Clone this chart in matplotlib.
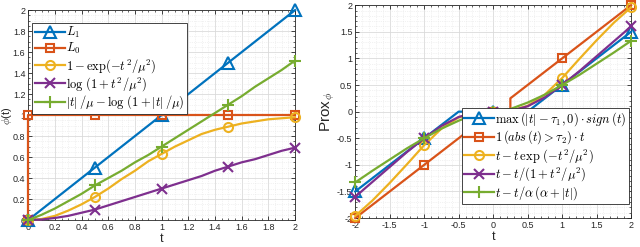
import matplotlib
matplotlib.use('Agg')
import matplotlib.pyplot as plt
from matplotlib.ticker import MultipleLocator

plt.rcParams['font.family'] = ['Liberation Sans', 'DejaVu Sans']
plt.rcParams['mathtext.fontset'] = 'cm'

# MATLAB default colours
c_blue, c_orange, c_yellow, c_purple, c_green = '#0072BD', '#D95319', '#EDB120', '#7E2F8E', '#77AC30'

# ---- left panel: penalty functions phi(t) ----
t_l = [0, 0.1, 0.2, 0.3, 0.4, 0.5, 0.6, 0.7, 0.8, 0.9, 1.0,
       1.1, 1.2, 1.3, 1.4, 1.5, 1.6, 1.7, 1.8, 1.9, 2.0]
phi_l1 = [0, 0.1, 0.2, 0.3, 0.4, 0.5, 0.6, 0.7, 0.8, 0.9, 1.0,
          1.1, 1.2, 1.3, 1.4, 1.5, 1.6, 1.7, 1.8, 1.9, 2.0]
t_l0 = [0, 0, 0.5, 1, 1.5, 2]
phi_l0 = [0, 1, 1, 1, 1, 1]
phi_exp = [0, 0.01, 0.04, 0.09, 0.15, 0.22, 0.30, 0.39, 0.47, 0.56, 0.63,
           0.70, 0.76, 0.82, 0.86, 0.89, 0.92, 0.94, 0.96, 0.97, 0.98]
phi_log = [0, 0.005, 0.02, 0.04, 0.07, 0.10, 0.14, 0.18, 0.22, 0.26, 0.30,
           0.34, 0.38, 0.42, 0.47, 0.51, 0.55, 0.58, 0.62, 0.66, 0.69]
phi_abslog = [0, 0.05, 0.11, 0.18, 0.25, 0.33, 0.40, 0.47, 0.55, 0.62, 0.70,
              0.78, 0.86, 0.94, 1.02, 1.10, 1.18, 1.27, 1.35, 1.43, 1.52]

# ---- right panel: proximal operators ----
t_soft = [-2, -1, -0.5, 0, 0.5, 1, 2]
prox_soft = [-1.5, -0.5, 0, 0, 0, 0.5, 1.5]
t_hard = [-2, -1, -0.25, -0.25, 0, 0.25, 0.25, 1, 2]
prox_hard = [-2, -1, -0.25, 0, 0, 0, 0.25, 1, 2]
t_r = [-2, -1.75, -1.5, -1.25, -1, -0.75, -0.5, -0.25, 0,
       0.25, 0.5, 0.75, 1, 1.25, 1.5, 1.75, 2]
prox_exp = [-1.96, -1.67, -1.34, -0.99, -0.63, -0.32, -0.11, -0.015, 0,
            0.015, 0.11, 0.32, 0.63, 0.99, 1.34, 1.67, 1.96]
prox_rat = [-1.6, -1.32, -1.04, -0.76, -0.5, -0.27, -0.10, -0.015, 0,
            0.015, 0.10, 0.27, 0.5, 0.76, 1.04, 1.32, 1.6]
prox_abs = [-1.33, -1.11, -0.9, -0.69, -0.5, -0.32, -0.17, -0.05, 0,
            0.05, 0.17, 0.32, 0.5, 0.69, 0.9, 1.11, 1.33]

fig = plt.figure(figsize=(6.4, 2.47), dpi=100)
ax1 = fig.add_axes([0.044, 0.109, 0.417, 0.850])
ax2 = fig.add_axes([0.555, 0.117, 0.431, 0.862])

lw = 1.6
mk = dict(markerfacecolor='none', markeredgewidth=1.5, clip_on=False, zorder=3)

ax1.plot(t_l, phi_l1, color=c_blue, lw=lw, marker='^', ms=8.5, markevery=5, label=r'$L_1$', **mk)
ax1.plot(t_l0, phi_l0, color=c_orange, lw=lw, marker='s', ms=5.5, label=r'$L_0$', **mk)
ax1.plot(t_l, phi_exp, color=c_yellow, lw=lw, marker='o', ms=6.5, markevery=5,
         label=r'$1-\exp(-t^2/\mu^2)$', **mk)
ax1.plot(t_l, phi_log, color=c_purple, lw=lw, marker='x', ms=7, markevery=5,
         label=r'$\log\,(1+t^2/\mu^2)$', **mk)
ax1.plot(t_l, phi_abslog, color=c_green, lw=lw, marker='+', ms=9, markevery=5,
         label=r'$|t|\,/\mu-\log\,(1+|t|\,/\mu)$', **mk)

ax2.plot(t_soft, prox_soft, color=c_blue, lw=lw, marker='^', ms=8.5, markevery=[0, 1, 3, 5, 6],
         label=r'$\max\,(|t|-\tau_1,0)\cdot sign\,(t)$', **mk)
ax2.plot(t_hard, prox_hard, color=c_orange, lw=lw, marker='s', ms=5.5, markevery=[0, 1, 4, 7, 8],
         label=r'$\mathbf{1}\,(abs\,(t)>\tau_2)\cdot t$', **mk)
ax2.plot(t_r, prox_exp, color=c_yellow, lw=lw, marker='o', ms=6.5, markevery=4,
         label=r'$t-t\,\exp\,(-t^2/\mu^2)$', **mk)
ax2.plot(t_r, prox_rat, color=c_purple, lw=lw, marker='x', ms=7, markevery=4,
         label=r'$t-t/(1+t^2/\mu^2)$', **mk)
ax2.plot(t_r, prox_abs, color=c_green, lw=lw, marker='+', ms=9, markevery=4,
         label=r'$t-t/\alpha\,(\alpha+|t|)$', **mk)

ax1.set_xlim(0, 2)
ax1.set_ylim(0, 2)
ax1.xaxis.set_major_locator(MultipleLocator(0.2))
ax1.yaxis.set_major_locator(MultipleLocator(0.2))
ax1.xaxis.set_minor_locator(MultipleLocator(0.05))
ax1.yaxis.set_minor_locator(MultipleLocator(0.05))
ax2.set_xlim(-2, 2)
ax2.set_ylim(-2, 2)
ax2.xaxis.set_major_locator(MultipleLocator(0.5))
ax2.yaxis.set_major_locator(MultipleLocator(0.5))
ax2.xaxis.set_minor_locator(MultipleLocator(0.1))
ax2.yaxis.set_minor_locator(MultipleLocator(0.1))

fmt = lambda v, p: ('%g' % round(v, 2))
for ax in (ax1, ax2):
    ax.xaxis.set_major_formatter(plt.FuncFormatter(fmt))
    ax.yaxis.set_major_formatter(plt.FuncFormatter(fmt))
    ax.tick_params(which='both', direction='in', top=True, right=True,
                   labelsize=6.5, colors='#262626', pad=2)
    ax.tick_params(which='major', length=3, width=0.6)
    ax.tick_params(which='minor', length=1.5, width=0.5)
    ax.grid(which='major', color='#dadada', lw=0.6)
    ax.grid(which='minor', color='#e6e6e6', lw=0.5, ls=':')
    ax.set_axisbelow(True)
    for s in ax.spines.values():
        s.set_color('#262626')
        s.set_linewidth(0.6)
    ax.set_xlabel('t', fontsize=9, labelpad=1, color='#262626')

# left y label sits in the narrow gap left of the tick labels
fig.text(7.5 / 640, 1 - 116 / 247, r'$\phi$(t)', fontsize=8, color='#262626',
         rotation=90, ha='center', va='center')
ax2.set_ylabel(r'Prox$_{\phi}$', fontsize=11, labelpad=0, color='#262626')

leg_kw = dict(fontsize=9, handlelength=2.4, handletextpad=0.1, labelspacing=0.05,
              borderpad=0.2, borderaxespad=0, fancybox=False, framealpha=1,
              edgecolor='#262626')
l1 = ax1.legend(loc='upper left', bbox_to_anchor=(0.015, 0.94), **leg_kw)
l2 = ax2.legend(loc='lower right', bbox_to_anchor=(0.993, 0.065), **leg_kw)
for l in (l1, l2):
    l.get_frame().set_linewidth(0.6)

fig.savefig('out.png', dpi=100)
